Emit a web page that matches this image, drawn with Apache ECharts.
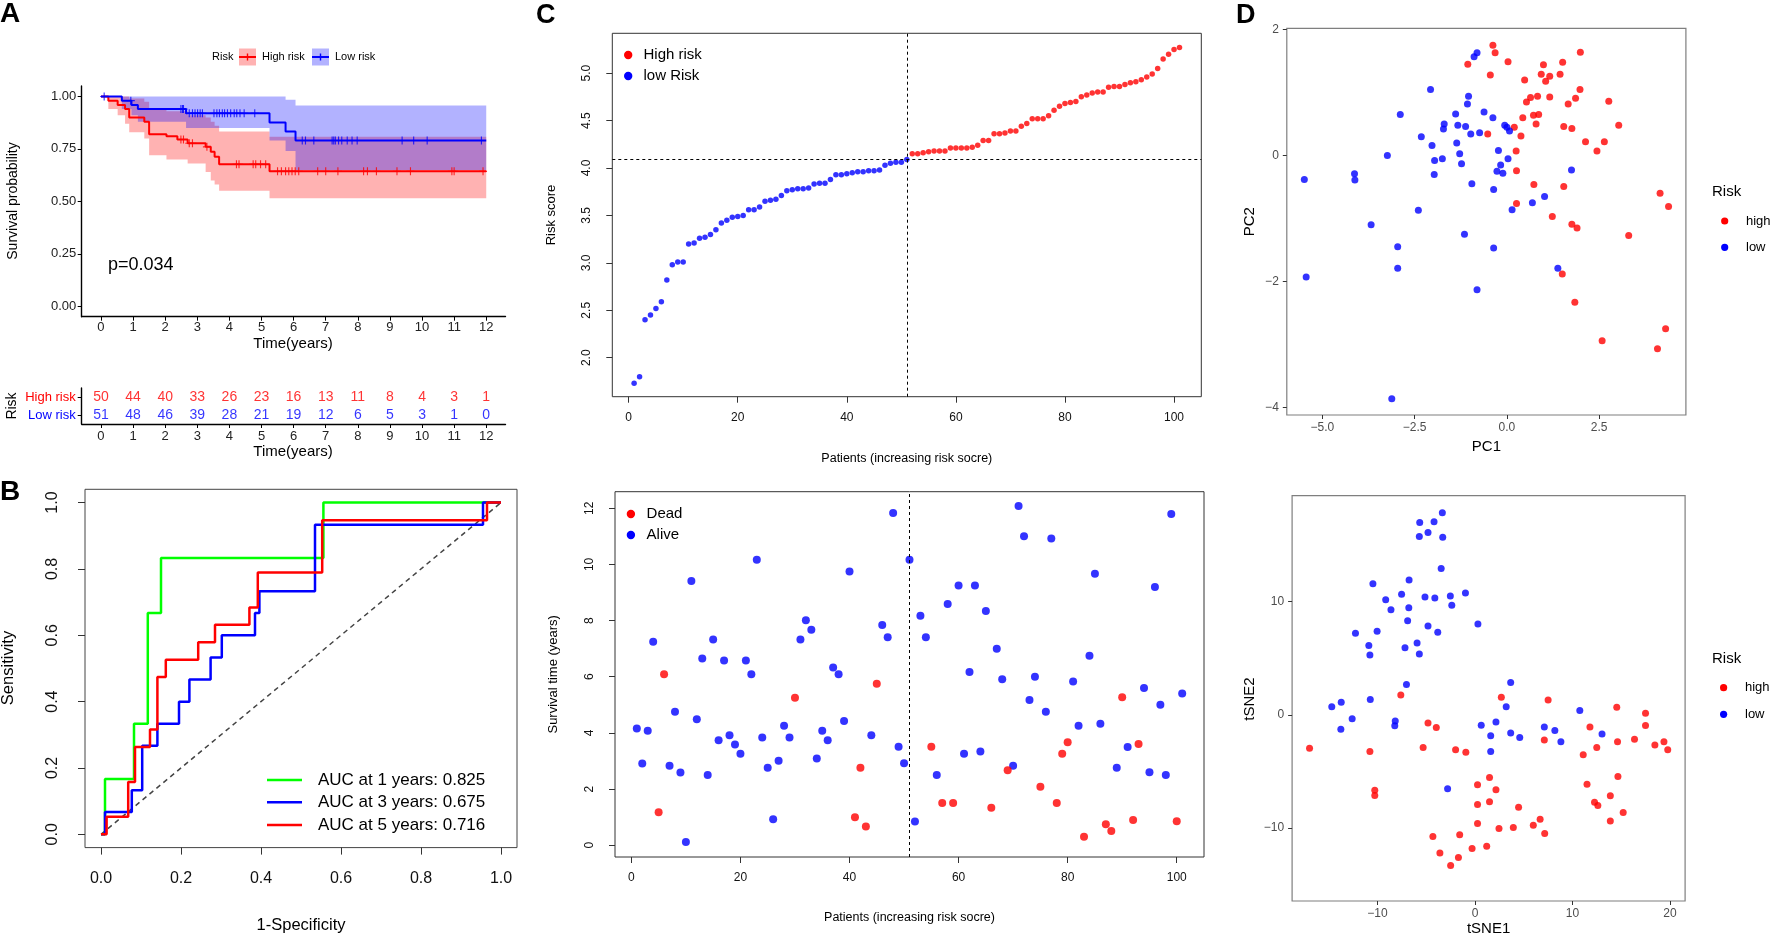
<!DOCTYPE html>
<html>
<head>
<meta charset="utf-8">
<title>Risk model panels</title>
<script src="https://cdn.jsdelivr.net/npm/echarts@6.0.0/dist/echarts.min.js"></script>
<style>
html, body { margin: 0; padding: 0; background: #fff; }
#chart { width: 1772px; height: 936px; }
</style>
</head>
<body>
<div id="chart"></div>
<script>
var FONT = "'Liberation Sans', Arial, Helvetica, sans-serif";
var RED = '#ff0000', BLUE = '#0000ff', GREEN = '#00ff00';

// ---- A: Kaplan-Meier (time, survival) step points
var kmHigh = [[0,1],[0.23,0.98],[0.52,0.96],[0.75,0.94],[0.88,0.9],[1.35,0.88],[1.5,0.82],[2.04,0.81],[2.38,0.795],[2.7,0.777],[3.26,0.76],[3.42,0.737],[3.54,0.713],[3.68,0.677],[5.25,0.643],[12,0.643]];
var kmLow = [[0,1],[0.65,0.98],[0.95,0.96],[1.15,0.94],[2.65,0.92],[5.25,0.876],[5.75,0.833],[6.06,0.79],[12,0.79]];
var kmHighUpper = [[0,1],[0.88,0.99],[1.35,0.975],[1.5,0.94],[2.04,0.93],[2.7,0.91],[3.26,0.9],[3.42,0.88],[3.54,0.86],[3.68,0.833],[5.25,0.808],[12,0.808]];
var kmHighLower = [[0,1],[0.23,0.94],[0.52,0.91],[0.75,0.87],[0.88,0.83],[1.35,0.8],[1.5,0.72],[2.04,0.7],[2.7,0.68],[3.26,0.64],[3.42,0.6],[3.54,0.58],[3.68,0.55],[5.25,0.515],[12,0.515]];
var kmLowUpper = [[0,1],[5.75,0.985],[6.06,0.957],[12,0.957]];
var kmLowLower = [[0,1],[0.65,0.94],[0.95,0.91],[1.15,0.88],[2.65,0.85],[5.25,0.79],[5.75,0.74],[6.06,0.65],[12,0.65]];
var censorHigh = [2.49,2.57,2.75,2.85,3.3,4.22,4.3,4.74,4.82,4.97,5.13,5.5,5.62,5.75,5.85,5.95,6.05,6.16,6.75,7.0,7.38,8.18,8.3,8.58,9.22,9.64,10.93,11.0,11.9];
var censorLow = [0.1,0.93,2.49,2.54,2.57,2.75,2.85,2.93,3.01,3.09,3.16,3.52,3.61,3.69,3.78,3.85,3.94,4.04,4.15,4.23,4.33,4.46,4.79,6.27,6.37,6.63,7.2,7.25,7.3,7.4,7.5,7.67,7.82,7.98,9.38,9.74,10.16,11.85];
var tableTimes = [0,1,2,3,4,5,6,7,8,9,10,11,12];
var atRiskHigh = [50,44,40,33,26,23,16,13,11,8,4,3,1];
var atRiskLow = [51,48,46,39,28,21,19,12,6,5,3,1,0];
var riskGroups = ['High risk', 'Low risk'];
var kmProbTicks = [0,0.25,0.5,0.75,1];

// ---- B: time-dependent ROC (fpr, tpr) corners
var roc1 = [[0,0],[0.01,0.167],[0.0825,0.333],[0.117,0.667],[0.15,0.833],[0.556,1],[1,1]];
var roc3 = [[0,0],[0.01,0.067],[0.077,0.133],[0.103,0.267],[0.141,0.333],[0.195,0.4],[0.221,0.467],[0.274,0.533],[0.302,0.6],[0.385,0.667],[0.396,0.733],[0.535,0.933],[0.955,1],[1,1]];
var roc5 = [[0,0],[0.014,0.053],[0.068,0.158],[0.085,0.263],[0.1225,0.316],[0.141,0.474],[0.162,0.526],[0.243,0.579],[0.285,0.632],[0.371,0.684],[0.392,0.789],[0.553,0.947],[0.965,1],[1,1]];
var aucLabels = ['AUC at 1 years: 0.825', 'AUC at 3 years: 0.675', 'AUC at 5 years: 0.716'];
var rocTicks = [0,0.2,0.4,0.6,0.8,1];

// ---- C: risk score and survival status, patients sorted by risk
var riskScore = [1.73,1.80,2.40,2.45,2.52,2.59,2.82,2.98,3.01,3.01,3.20,3.21,3.26,3.27,3.30,3.35,3.42,3.45,3.48,3.49,
  3.50,3.56,3.56,3.59,3.65,3.66,3.67,3.71,3.76,3.77,3.78,3.78,3.79,3.83,3.84,3.84,3.88,3.93,3.93,3.94,
  3.95,3.96,3.96,3.97,3.97,3.98,4.03,4.05,4.06,4.06,4.09,
  4.15,4.15,4.16,4.17,4.18,4.18,4.18,4.21,4.21,4.21,4.21,4.22,4.24,4.29,4.29,4.36,4.36,4.37,4.39,4.39,
  4.44,4.47,4.52,4.52,4.52,4.55,4.61,4.65,4.68,4.69,4.70,4.75,4.77,4.79,4.80,4.80,4.85,4.86,4.86,
  4.88,4.90,4.91,4.93,4.96,4.99,5.05,5.15,5.20,5.25,5.27];
var lowRiskCount = 51;
var survTime = [4.16,2.91,4.08,7.25,1.17,6.09,2.83,4.75,2.59,0.11,9.41,4.49,6.65,2.50,7.33,3.74,6.58,3.92,3.59,3.26,
  6.58,6.09,10.17,3.84,2.76,0.92,3.01,4.25,3.84,5.25,7.33,8.01,7.67,3.09,4.08,3.74,6.33,6.09,4.42,9.75,
  1.00,2.76,0.67,3.92,5.75,7.84,7.41,11.83,3.51,2.92,10.17,0.84,8.17,7.41,3.51,2.50,1.50,8.59,1.50,9.25,
  3.26,6.17,9.25,3.34,8.34,1.33,7.00,5.91,2.67,2.83,12.08,11.00,5.17,6.00,2.08,4.75,10.92,1.50,3.26,3.67,
  5.83,4.25,0.30,6.75,9.67,4.33,0.75,0.51,2.76,5.27,3.50,0.90,3.60,5.60,2.60,9.20,5.00,2.50,11.80,0.85,5.40];
var deadStatus = [0,0,0,0,1,1,0,0,0,0,0,0,0,0,0,0,0,0,0,0,
  0,0,0,0,0,0,0,0,0,1,0,0,0,0,0,0,0,0,0,0,
  1,1,1,0,1,0,0,0,0,0,0,0,0,0,1,0,1,0,1,0,
  0,0,0,0,0,1,0,0,1,0,0,0,0,0,1,0,0,1,1,1,
  0,0,1,0,0,0,1,1,0,1,0,1,1,0,0,0,0,0,0,1,0];
var patientTicks = [0,20,40,60,80,100];
var scoreTicks = [2,2.5,3,3.5,4,4.5,5];
var timeTicks = [0,2,4,6,8,10,12];

// ---- D: PCA and t-SNE coordinates
var pcaHigh = [[-1.06,1.45],[-0.52,0.34],[-0.45,1.28],[-0.38,1.75],[-0.32,1.63],[0.03,1.49],[0.20,0.45],[0.25,0.07],[0.26,-0.24],[0.26,-0.76],
  [0.38,0.31],[0.43,0.60],[0.48,1.20],[0.53,0.85],[0.64,0.92],[0.72,0.64],[0.73,-0.46],[0.79,0.50],[0.83,0.94],[0.86,0.65],
  [0.93,1.29],[0.99,1.44],[1.05,1.18],[1.16,1.26],[1.16,0.93],[1.23,-0.97],[1.44,1.29],[1.50,-1.88],[1.51,1.48],[1.54,0.46],
  [1.54,-0.49],[1.66,0.82],[1.76,0.43],[1.76,-1.09],[1.84,-2.33],[1.86,0.91],[1.90,-1.15],[1.98,1.05],[1.99,1.64],[2.13,0.22],
  [2.44,0.07],[2.58,-2.94],[2.64,0.22],[2.76,0.86],[3.03,0.48],[3.30,-1.27],[4.08,-3.07],[4.15,-0.60],[4.30,-2.75],[4.38,-0.81]];
var pcaLow = [[-5.49,-0.38],[-5.44,-1.93],[-4.13,-0.29],[-4.12,-0.39],[-3.68,-1.10],[-3.24,0.00],[-3.12,-3.86],[-2.96,-1.45],[-2.96,-1.79],[-2.89,0.65],
  [-2.40,-0.87],[-2.32,0.30],[-2.07,1.05],[-2.03,0.16],[-1.97,-0.30],[-1.96,-0.08],[-1.75,-0.05],[-1.72,0.42],[-1.70,0.50],[-1.39,0.66],
  [-1.36,0.20],[-1.33,0.48],[-1.28,0.03],[-1.23,-0.13],[-1.15,-1.25],[-1.12,0.46],[-1.07,0.82],[-1.04,0.94],[-0.98,0.34],[-0.95,-0.45],
  [-0.89,1.57],[-0.81,1.63],[-0.81,-2.13],[-0.74,0.36],[-0.62,0.69],[-0.38,0.60],[-0.36,-0.54],[-0.36,-1.47],[-0.27,-0.25],[-0.23,0.08],
  [-0.17,-0.15],[-0.11,-0.28],[-0.06,0.48],[0.00,0.45],[0.03,-0.05],[0.07,0.39],[0.14,-0.86],[0.69,-0.75],[1.02,-0.65],[1.38,-1.79],[1.75,-0.23]];
var tsneHigh = [[-7.61,1.76],[2.70,1.56],[7.50,1.32],[14.54,0.68],[17.49,0.15],[17.49,-0.94],[-4.82,-0.71],[-3.97,-1.12],[11.79,-1.06],[-16.97,-2.94],
  [-10.78,-3.24],[-5.32,-2.88],[-1.99,-3.09],[-0.94,-3.29],[7.11,-2.21],[11.1,-3.53],[12.49,-2.88],[14.62,-2.38],[16.36,-2.15],[18.45,-2.65],
  [19.38,-2.38],[19.77,-3.09],[14.66,-5.44],[-10.28,-6.65],[-10.28,-7.12],[0.26,-6.18],[1.49,-5.53],[2.15,-6.62],[11.49,-6.12],[0.26,-7.91],
  [1.49,-7.68],[4.47,-8.15],[12.26,-7.71],[12.6,-8.0],[13.88,-7.15],[15.2,-8.62],[0.26,-9.59],[2.46,-10.03],[3.93,-9.94],[5.98,-9.76],
  [6.68,-9.21],[7.15,-10.47],[13.88,-9.38],[-4.32,-10.74],[-1.57,-10.59],[-3.6,-12.2],[-2.5,-13.3],[-1.7,-12.6],[-0.3,-11.8],[1.2,-11.6]];
var tsneLow = [[-3.35,17.85],[-5.67,17.0],[-4.20,17.06],[-5.71,15.76],[-4.82,16.12],[-3.31,15.68],[-3.47,12.94],[-10.47,11.59],[-6.76,11.91],[-7.53,10.65],
  [-9.16,10.18],[-5.13,10.41],[-4.12,10.32],[-2.53,10.5],[-0.98,10.76],[-2.38,9.68],[-8.62,9.29],[-6.79,9.47],[-6.91,8.32],[0.30,8.03],
  [-4.82,7.85],[-3.82,7.29],[-12.26,7.21],[-10.04,7.38],[-10.89,6.12],[-10.78,5.29],[-7.18,5.94],[-5.94,6.35],[-5.71,5.38],[-7.03,2.68],
  [3.66,2.85],[-10.74,1.35],[-14.69,0.71],[-13.72,1.12],[3.20,0.71],[10.75,0.38],[-12.6,-0.35],[-13.76,-1.26],[-8.18,-0.53],[-8.23,-0.97],
  [0.64,-0.91],[2.15,-0.62],[1.61,-1.85],[3.66,-1.59],[4.59,-2.0],[7.11,-1.06],[8.19,-1.38],[13.03,-1.68],[8.81,-2.38],[1.61,-3.24],[-2.81,-6.53]];
var pc1Ticks = [-5,-2.5,0,2.5], pc2Ticks = [-4,-2,0,2];
var tsne1Ticks = [-10,0,10,20], tsne2Ticks = [-10,0,10];

// ---------- helpers
function minus(s) { return String(s).replace('-', '\u2212'); }

function axis(g, min, max, ticks, fmt, st) {
  return {
    type: 'value', gridIndex: g, min: min, max: max,
    axisLine: { show: !!st.line, onZero: false, lineStyle: { color: st.lineColor || '#000', width: st.lineWidth || 1 } },
    axisTick: { show: true, inside: false, length: st.tickLen, customValues: ticks,
      lineStyle: { color: st.tickColor, width: st.tickWidth || 1 } },
    axisLabel: { customValues: ticks, formatter: fmt, color: st.labelColor, fontSize: st.fontSize,
      fontFamily: FONT, margin: st.margin, rotate: st.rotate || 0 },
    splitLine: { show: false }
  };
}

function stepAt(curve, t) {
  var s = curve[0][1];
  for (var i = 0; i < curve.length; i++) { if (curve[i][0] <= t) s = curve[i][1]; }
  return s;
}

function band(upper, lower, fill) {
  return {
    type: 'custom', xAxisIndex: 0, yAxisIndex: 0, silent: true, z: 1, data: [[0, 0]],
    renderItem: function (params, api) {
      var pts = [], i;
      for (i = 0; i < upper.length - 1; i++) {
        pts.push(api.coord(upper[i]));
        pts.push(api.coord([upper[i + 1][0], upper[i][1]]));
      }
      pts.push(api.coord(upper[upper.length - 1]));
      for (i = lower.length - 1; i > 0; i--) {
        pts.push(api.coord(lower[i]));
        pts.push(api.coord([lower[i][0], lower[i - 1][1]]));
      }
      pts.push(api.coord(lower[0]));
      return { type: 'polygon', shape: { points: pts }, style: { fill: fill } };
    }
  };
}

function txt(x, y, s, size, o) {
  o = o || {};
  return { type: 'text', x: x, y: y, rotation: o.rot || 0, silent: true,
    style: { text: s, fill: o.color || '#000', font: (o.bold ? 'bold ' : '') + size + 'px ' + FONT,
      textAlign: o.align || 'center', textVerticalAlign: 'middle', align: o.align || 'center', verticalAlign: 'middle' } };
}
function dot(x, y, r, c) { return { type: 'circle', silent: true, shape: { cx: x, cy: y, r: r }, style: { fill: c } }; }
function seg(x1, y1, x2, y2, c, w) { return { type: 'line', silent: true, shape: { x1: x1, y1: y1, x2: x2, y2: y2 }, style: { stroke: c, lineWidth: w } }; }

var PLUS = 'path://M-0.7,-5H0.7V-0.7H5V0.7H0.7V5H-0.7V0.7H-5V-0.7H-0.7Z';

// axis styles
var ggA = { line: true, lineColor: '#000', lineWidth: 1.4, tickLen: 4, tickColor: '#000', labelColor: '#222', fontSize: 13 };
var rB = { tickLen: 7, tickColor: '#333', labelColor: '#111', fontSize: 16 };
var rC = { tickLen: 6, tickColor: '#333', labelColor: '#111', fontSize: 12 };
var gD = { tickLen: 4, tickColor: '#333', labelColor: '#4d4d4d', fontSize: 12 };
function ext(base, more) { var o = {}, k; for (k in base) o[k] = base[k]; for (k in more) o[k] = more[k]; return o; }

var f2 = function (v) { return v.toFixed(2); };
var f1 = function (v) { return v.toFixed(1); };
var fi = function (v) { return minus(v); };
var f1m = function (v) { return minus(v.toFixed(1)); };

// ---------- series
var series = [];
series.push(band(kmHighUpper, kmHighLower, 'rgba(255,0,0,0.3)'));
series.push(band(kmLowUpper, kmLowLower, 'rgba(0,0,255,0.3)'));
series.push({ type: 'line', name: 'High risk', xAxisIndex: 0, yAxisIndex: 0, step: 'end', data: kmHigh,
  showSymbol: false, z: 3, lineStyle: { color: RED, width: 2 }, itemStyle: { color: RED } });
series.push({ type: 'line', name: 'Low risk', xAxisIndex: 0, yAxisIndex: 0, step: 'end', data: kmLow,
  showSymbol: false, z: 3, lineStyle: { color: BLUE, width: 2 }, itemStyle: { color: BLUE } });
series.push({ type: 'scatter', xAxisIndex: 0, yAxisIndex: 0, symbol: PLUS, symbolSize: 8, z: 4,
  data: censorHigh.map(function (t) { return [t, stepAt(kmHigh, t)]; }), itemStyle: { color: RED } });
series.push({ type: 'scatter', xAxisIndex: 0, yAxisIndex: 0, symbol: PLUS, symbolSize: 8, z: 4,
  data: censorLow.map(function (t) { return [t, stepAt(kmLow, t)]; }), itemStyle: { color: BLUE } });

// risk table
[atRiskHigh, atRiskLow].forEach(function (arr, k) {
  series.push({ type: 'scatter', xAxisIndex: 1, yAxisIndex: 1, symbolSize: 1,
    itemStyle: { color: 'rgba(0,0,0,0)' },
    data: tableTimes.map(function (t, i) { return [t, riskGroups[k], arr[i]]; }),
    label: { show: true, position: 'inside', formatter: function (p) { return p.value[2]; },
      color: k === 0 ? RED : BLUE, fontSize: 14, fontFamily: FONT } });
});

// ROC
series.push({ type: 'line', xAxisIndex: 2, yAxisIndex: 2, data: [[0, 0], [1, 1]], showSymbol: false,
  lineStyle: { color: '#444', width: 1.5, type: [5, 4] } });
[[roc1, GREEN], [roc3, BLUE], [roc5, RED]].forEach(function (r) {
  series.push({ type: 'line', xAxisIndex: 2, yAxisIndex: 2, step: 'end', data: r[0], showSymbol: false,
    lineStyle: { color: r[1], width: 2.5 } });
});

// risk score plot
var dashed = { color: '#000', width: 1, type: [3, 3] };
series.push({ type: 'scatter', xAxisIndex: 3, yAxisIndex: 3, symbolSize: 5.5, itemStyle: { color: BLUE },
  data: riskScore.slice(0, lowRiskCount).map(function (v, i) { return [i + 1, v]; }),
  markLine: { silent: true, symbol: ['none', 'none'], label: { show: false }, lineStyle: dashed,
    data: [{ xAxis: lowRiskCount }, { yAxis: riskScore[lowRiskCount - 1] }] } });
series.push({ type: 'scatter', xAxisIndex: 3, yAxisIndex: 3, symbolSize: 5.5, itemStyle: { color: RED },
  data: riskScore.slice(lowRiskCount).map(function (v, i) { return [i + 1 + lowRiskCount, v]; }) });

// survival status plot
var deadPts = [], alivePts = [];
survTime.forEach(function (t, i) { (deadStatus[i] ? deadPts : alivePts).push([i + 1, t]); });
series.push({ type: 'scatter', xAxisIndex: 4, yAxisIndex: 4, symbolSize: 8, itemStyle: { color: BLUE }, data: alivePts,
  markLine: { silent: true, symbol: ['none', 'none'], label: { show: false }, lineStyle: dashed,
    data: [{ xAxis: lowRiskCount }] } });
series.push({ type: 'scatter', xAxisIndex: 4, yAxisIndex: 4, symbolSize: 8, itemStyle: { color: RED }, data: deadPts });

// PCA / tSNE
series.push({ type: 'scatter', xAxisIndex: 5, yAxisIndex: 5, symbolSize: 7, itemStyle: { color: RED }, data: pcaHigh });
series.push({ type: 'scatter', xAxisIndex: 5, yAxisIndex: 5, symbolSize: 7, itemStyle: { color: BLUE }, data: pcaLow });
series.push({ type: 'scatter', xAxisIndex: 6, yAxisIndex: 6, symbolSize: 7, itemStyle: { color: RED }, data: tsneHigh });
series.push({ type: 'scatter', xAxisIndex: 6, yAxisIndex: 6, symbolSize: 7, itemStyle: { color: BLUE }, data: tsneLow });

// ---------- text, legends
var g = [];
g.push(txt(0, 14.5, 'A', 28, { bold: true, align: 'left' }));
g.push(txt(0, 492.5, 'B', 28, { bold: true, align: 'left' }));
g.push(txt(536, 16, 'C', 27, { bold: true, align: 'left' }));
g.push(txt(1236, 16, 'D', 27, { bold: true, align: 'left' }));

// A legend
g.push(txt(212, 57, 'Risk', 11, { align: 'left' }));
g.push({ type: 'rect', silent: true, shape: { x: 239, y: 48.5, width: 17, height: 17 }, style: { fill: 'rgba(255,0,0,0.3)' } });
g.push(seg(239, 57, 256, 57, RED, 2)); g.push(seg(247.5, 53.5, 247.5, 60.5, RED, 1.4));
g.push(txt(262, 57, riskGroups[0], 11, { align: 'left' }));
g.push({ type: 'rect', silent: true, shape: { x: 312, y: 48.5, width: 17, height: 17 }, style: { fill: 'rgba(0,0,255,0.3)' } });
g.push(seg(312, 57, 329, 57, BLUE, 2)); g.push(seg(320.5, 53.5, 320.5, 60.5, BLUE, 1.4));
g.push(txt(335, 57, riskGroups[1], 11, { align: 'left' }));
g.push(txt(13.5, 201, 'Survival probability', 14, { rot: Math.PI / 2 }));
g.push(txt(108, 265, 'p=0.034', 18, { align: 'left' }));
g.push(txt(293, 344, 'Time(years)', 15));
g.push(txt(12.5, 406, 'Risk', 14, { rot: Math.PI / 2 }));
g.push(txt(293, 452.3, 'Time(years)', 15));

// B
g.push(txt(8, 668, 'Sensitivity', 16.5, { rot: Math.PI / 2 }));
g.push(txt(301, 925, '1-Specificity', 16.5));
[[GREEN, 780], [BLUE, 802.3], [RED, 825]].forEach(function (l, i) {
  g.push(seg(267, l[1], 302, l[1], l[0], 2.5));
  g.push(txt(318, l[1], aucLabels[i], 17, { align: 'left' }));
});

// C
g.push(dot(628.2, 55, 4.2, RED)); g.push(txt(643.5, 55, 'High risk', 15, { align: 'left' }));
g.push(dot(628.2, 76, 4.2, BLUE)); g.push(txt(643.5, 76, 'low Risk', 15, { align: 'left' }));
g.push(txt(551.7, 215, 'Risk score', 13, { rot: Math.PI / 2 }));
g.push(txt(906.8, 458.3, 'Patients (increasing risk socre)', 12.5));
g.push(dot(630.9, 514, 4.2, RED)); g.push(txt(646.6, 514, 'Dead', 15, { align: 'left' }));
g.push(dot(630.9, 535, 4.2, BLUE)); g.push(txt(646.6, 535, 'Alive', 15, { align: 'left' }));
g.push(txt(553.6, 674.3, 'Survival time (years)', 13, { rot: Math.PI / 2 }));
g.push(txt(909.5, 918, 'Patients (increasing risk socre)', 12.5));

// D
g.push(txt(1250, 221.7, 'PC2', 15, { rot: Math.PI / 2 }));
g.push(txt(1486.4, 446.7, 'PC1', 15));
g.push(txt(1712, 192.3, 'Risk', 15, { align: 'left' }));
g.push(dot(1724.7, 221, 3.6, RED)); g.push(txt(1746, 221, 'high', 13, { align: 'left' }));
g.push(dot(1724.7, 247.3, 3.6, BLUE)); g.push(txt(1746, 247.3, 'low', 13, { align: 'left' }));
g.push(txt(1249.8, 699, 'tSNE2', 15, { rot: Math.PI / 2 }));
g.push(txt(1488.6, 929, 'tSNE1', 15));
g.push(txt(1712, 659.3, 'Risk', 15, { align: 'left' }));
g.push(dot(1723.6, 687.7, 3.6, RED)); g.push(txt(1745, 687.7, 'high', 13, { align: 'left' }));
g.push(dot(1723.6, 714.3, 3.6, BLUE)); g.push(txt(1745, 714.3, 'low', 13, { align: 'left' }));

var option = {
  animation: false,
  backgroundColor: '#fff',
  textStyle: { fontFamily: FONT },
  grid: [
    { left: 81.7, top: 86, width: 423.8, height: 230.7 },
    { left: 81.7, top: 388, width: 423.8, height: 36 },
    { left: 85, top: 489.3, width: 432, height: 358.3, show: true, borderColor: '#444', borderWidth: 1 },
    { left: 612.3, top: 33.3, width: 589, height: 363.4, show: true, borderColor: '#333', borderWidth: 1 },
    { left: 615, top: 491.7, width: 589, height: 365.3, show: true, borderColor: '#333', borderWidth: 1 },
    { left: 1286.8, top: 28.3, width: 399.1, height: 386.7, show: true, borderColor: '#7f7f7f', borderWidth: 1.2 },
    { left: 1292.1, top: 495.7, width: 393, height: 405.3, show: true, borderColor: '#7f7f7f', borderWidth: 1.2 }
  ],
  xAxis: [
    axis(0, -0.6, 12.6, tableTimes, String, ext(ggA, { margin: 4.5 })),
    axis(1, -0.6, 12.6, tableTimes, String, ext(ggA, { margin: 5.5 })),
    axis(2, -0.04, 1.04, rocTicks, f1, ext(rB, { margin: 23 })),
    axis(3, -3, 105, patientTicks, String, ext(rC, { margin: 15 })),
    axis(4, -3, 105, patientTicks, String, ext(rC, { margin: 15 })),
    axis(5, -5.965, 4.85, pc1Ticks, f1m, ext(gD, { margin: 7 })),
    axis(6, -18.76, 21.55, tsne1Ticks, fi, ext(gD, { margin: 7 }))
  ],
  yAxis: [
    axis(0, -0.05, 1.05, kmProbTicks, f2, ext(ggA, { margin: 5.5 })),
    { type: 'category', gridIndex: 1, data: riskGroups, inverse: true,
      axisLine: { show: true, onZero: false, lineStyle: { color: '#000', width: 1.4 } },
      axisTick: { show: true, alignWithLabel: true, length: 4, lineStyle: { color: '#000' } },
      axisLabel: { fontSize: 13, fontFamily: FONT, margin: 6,
        color: function (v) { return v === riskGroups[0] ? RED : BLUE; } },
      splitLine: { show: false } },
    axis(2, -0.04, 1.04, rocTicks, f1, ext(rB, { margin: 24, rotate: 90 })),
    axis(3, 1.589, 5.42, scoreTicks, f1, ext(rC, { margin: 20, rotate: 90 })),
    axis(4, -0.42, 12.59, timeTicks, String, ext(rC, { margin: 19, rotate: 90 })),
    axis(5, -4.12, 2.02, pc2Ticks, fi, ext(gD, { margin: 8 })),
    axis(6, -16.44, 19.36, tsne2Ticks, fi, ext(gD, { margin: 8 }))
  ],
  series: series,
  graphic: { elements: g }
};

var chart = echarts.init(document.getElementById('chart'));
chart.setOption(option);
</script>
</body>
</html>
